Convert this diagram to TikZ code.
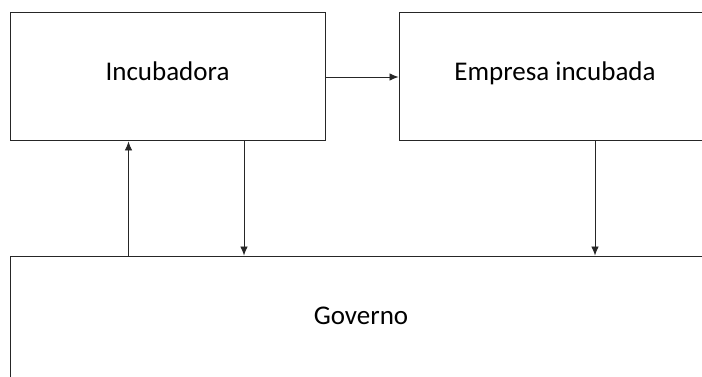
\documentclass[tikz,border=0pt]{standalone}
\usepackage{fontspec}
\setmainfont{Carlito}
\usetikzlibrary{arrows.meta}
\begin{document}
\begin{tikzpicture}[x=1pt,y=-1pt,
    caixa/.style={draw=black!85, line width=1pt, inner sep=0pt, text height=0.64em, text depth=0pt, font=\fontsize{27}{32}\selectfont},
    seta/.style={draw=black!85, line width=0.8pt, -{Latex[length=9pt,width=7.5pt]}}]
%% The page is the size of the reference picture; the right and lower boxes run off it, so we clip.
    \useasboundingbox (0,0) rectangle (702,377);
    \clip (0,0) rectangle (702,377);
    \fill[white] (0,0) rectangle (702,377);
%% The three boxes
    \node[caixa, minimum width=315pt, minimum height=128pt] (incubadora) at (167.5,77) {Incubadora};
    \node[caixa, minimum width=312pt, minimum height=128pt] (empresa) at (555,77) {Empresa incubada};
    \node[caixa, minimum width=702pt, minimum height=130pt] (governo) at (361,321) {Governo};
%% And the arrows between them
    \draw[seta] (incubadora.east) -- (empresa.west);
    \draw[seta] ([xshift=-39pt]incubadora.south |- governo.north) -- ([xshift=-39pt]incubadora.south);
    \draw[seta] ([xshift=76.5pt]incubadora.south) -- ([xshift=76.5pt]incubadora.south |- governo.north);
    \draw[seta] ([xshift=40pt]empresa.south) -- ([xshift=40pt]empresa.south |- governo.north);
\end{tikzpicture}
\end{document}
